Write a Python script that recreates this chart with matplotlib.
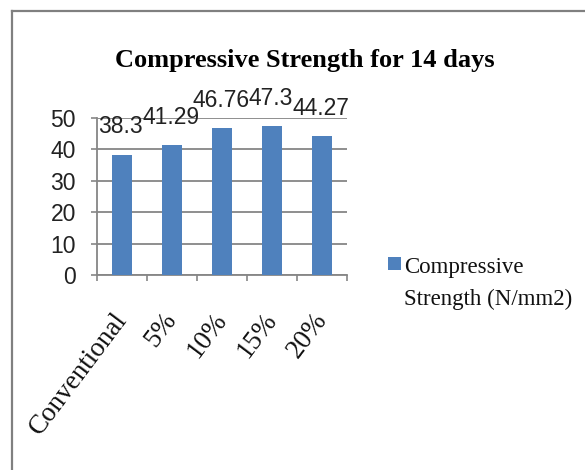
import matplotlib
matplotlib.use("Agg")
import matplotlib.pyplot as plt
from matplotlib.lines import Line2D
from matplotlib.patches import Rectangle

categories = ["Conventional", "5%", "10%", "15%", "20%"]
values = [38.3, 41.29, 46.76, 47.3, 44.27]
value_labels = ["38.3", "41.29", "46.76", "47.3", "44.27"]
yticks = [0, 10, 20, 30, 40, 50]
title = "Compressive Strength for 14 days"
legend_lines = ["Compressive", "Strength (N/mm2)"]

W, H = 585, 470
BLUE = "#4F81BD"
GRID = "#868686"

fig = plt.figure(figsize=(W / 100, H / 100), dpi=100)
fig.patch.set_facecolor("white")

def fx(px):
    return px / W

def fy(py):
    return 1 - py / H

ax = fig.add_axes([fx(97), fy(275), fx(347) - fx(97), fy(118) - fy(275)])
ax.bar(range(len(values)), values, width=0.39, color=BLUE, zorder=3)
ax.set_xlim(-0.5, len(values) - 0.5)
ax.set_ylim(0, 50)
ax.set_yticks(yticks)
ax.set_yticklabels([str(t) for t in yticks], fontsize=16.5, family="Liberation Sans")
ax.yaxis.grid(True, color=GRID, linewidth=1.3, zorder=0)
ax.set_axisbelow(True)
for s in ["top", "right"]:
    ax.spines[s].set_visible(False)
for s in ["left", "bottom"]:
    ax.spines[s].set_color(GRID)
    ax.spines[s].set_linewidth(1.3)
ax.tick_params(axis="y", length=4.3, width=1.2, color=GRID, pad=11, labelcolor="#222222")

ax.set_xticks(range(len(categories)))
ax.set_xticklabels(categories, rotation=53, ha="right", va="center",
                   rotation_mode="anchor", fontsize=19.5, family="Liberation Serif",
                   color="#111111")
ax.tick_params(axis="x", which="major", length=0, pad=29)
ax.set_xticks([i - 0.5 for i in range(len(categories) + 1)], minor=True)
ax.tick_params(axis="x", which="minor", length=4.3, width=1.2, color=GRID)

for i, (v, lab) in enumerate(zip(values, value_labels)):
    ax.annotate(lab, (i, v), xytext=(-1, 20), textcoords="offset points",
                ha="center", va="center", fontsize=16.5, family="Liberation Sans",
                color="#222222")

fig.text(fx(305), fy(67), title, ha="center", va="baseline", fontsize=19,
         fontweight="bold", family="Liberation Serif", color="#000000")

# legend (manual)
fig.add_artist(Rectangle((fx(388), fy(270)), fx(13), 13 / H, transform=fig.transFigure,
                         facecolor=BLUE, edgecolor="none"))
fig.text(fx(404), fy(273), legend_lines[0], ha="left", va="baseline", fontsize=16.5,
         family="Liberation Serif", color="#111111")
fig.text(fx(404), fy(305), legend_lines[1], ha="left", va="baseline", fontsize=16.5,
         family="Liberation Serif", color="#111111")

# chart border
fig.add_artist(Line2D([fx(12), fx(12)], [fy(11), 0], transform=fig.transFigure,
                      color="#808080", linewidth=1.6))
fig.add_artist(Line2D([fx(12), 1], [fy(11), fy(11)], transform=fig.transFigure,
                      color="#808080", linewidth=1.6))

fig.savefig("out.png", dpi=100, facecolor="white")
